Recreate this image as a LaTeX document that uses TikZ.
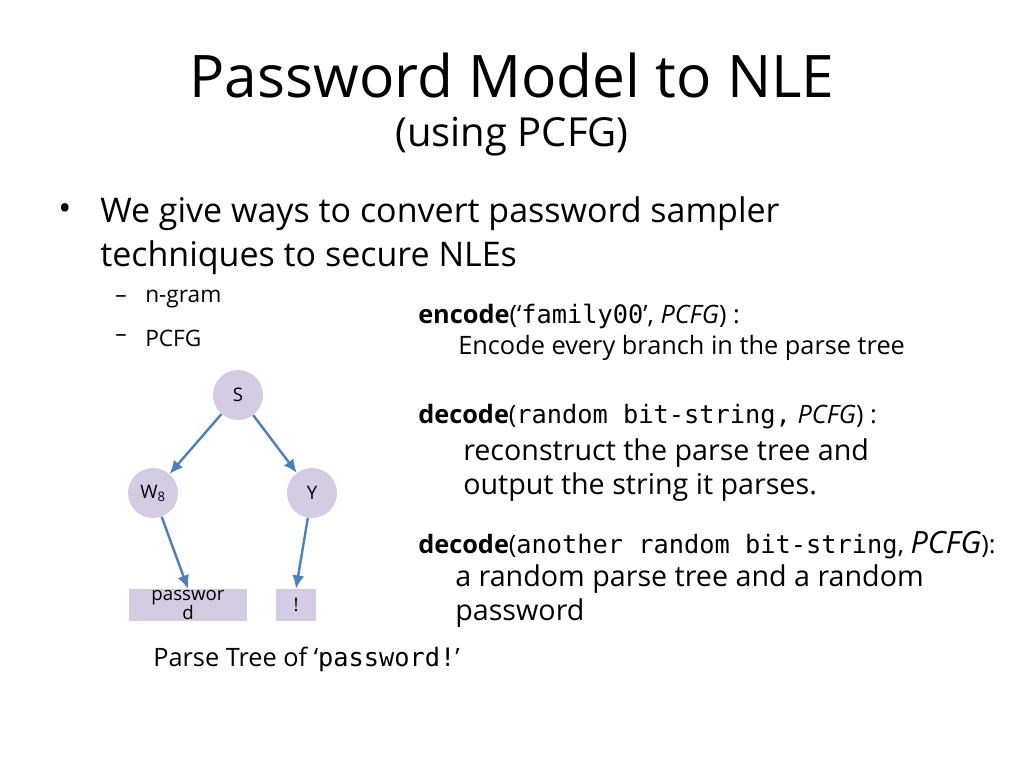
\documentclass[tikz,border=0pt]{standalone}
\usepackage{fontspec}
\setmainfont{Open Sans}
\setmonofont{DejaVu Sans Mono}
\usetikzlibrary{positioning,arrows.meta}
\definecolor{nodefill}{RGB}{212,204,226}
\definecolor{edgeblue}{RGB}{72,130,190}
\begin{document}
\begin{tikzpicture}[x=0.75pt,y=-0.75pt,
		tnode/.style={circle, fill=nodefill, minimum size=37.5pt, inner sep=0pt, font=\fontsize{14}{16}\selectfont},
		leaf/.style={rectangle, fill=nodefill, minimum height=24pt, inner sep=1pt, font=\fontsize{14}{14}\selectfont, align=center},
		edge/.style={-{Latex[length=10pt,width=9pt]}, draw=edgeblue, line width=1.8pt},
		txt/.style={anchor=west, inner sep=0pt, align=left}]
		    \useasboundingbox (0,0) rectangle (1024,768);
		    % title
		    \node (title) at (512,75) {\fontsize{44}{48}\selectfont Password Model to NLE};
		    \node (sub) at (512,137) {\fontsize{30}{34}\selectfont (using PCFG)};
		    % bullets
		    \node[txt] (dot) at (58,212) {\fontsize{26}{30}\selectfont •};
		    \node[txt, font=\fontsize{25.5}{33}\selectfont] (b1) at (100,236) {We give ways to convert password sampler\\techniques to secure NLEs};
		    \node[txt] (d1) at (115,299) {\fontsize{17}{20}\selectfont –};
		    \node[txt] (s1) at (145,299) {\fontsize{17}{20}\selectfont n-gram};
		    \node[txt] (d2) at (115,338) {\fontsize{17}{20}\selectfont –};
		    \node[txt] (s2) at (145,338) {\fontsize{17}{20}\selectfont PCFG};
		    % parse tree
		    \node[tnode] (S) at (238,395) {S};
		    \node[tnode] (W) at (153,493) {W\textsubscript{8}};
		    \node[tnode] (Y) at (312,493) {Y};
		    \node[leaf, minimum width=88pt] (pw) at (188,605) {passwor\\d};
		    \node[leaf, minimum width=30pt] (ex) at (296,605) {!};
		    \draw[edge] (S) -- (W);
		    \draw[edge] (S) -- (Y);
		    \draw[edge] (W) -- (pw.north);
		    \draw[edge] (Y) -- (ex.north);
		    \node[txt] (cap) at (153,659) {\fontsize{19}{22}\selectfont Parse Tree of ‘\texttt{password!}’};
		    % encode / decode
		    \node[txt] (enc) at (418,316) {\fontsize{19}{22}\selectfont \textbf{encode}(‘\texttt{family00}’, \textit{PCFG}) :};
		    \node[txt] (enc2) at (458,348) {\fontsize{19}{22}\selectfont Encode every branch in the parse tree};
		    \node[txt] (dec) at (418,417) {\fontsize{19}{22}\selectfont \textbf{decode}(\texttt{random bit-string,} \textit{PCFG}) :};
		    \node[txt, font=\fontsize{21.5}{25.5}\selectfont] (dec2) at (463,470) {reconstruct the parse tree and\\output the string it parses.};
		    \node[txt] (dec3) at (418,545) {\fontsize{19}{22}\selectfont \textbf{decode}(\texttt{another random bit-string}, {\fontsize{23}{23}\selectfont\textit{PCFG}}):};
		    \node[txt, font=\fontsize{21.5}{25.5}\selectfont] (dec4) at (455,596) {a random parse tree and a random\\password};
		\end{tikzpicture}
\end{document}
